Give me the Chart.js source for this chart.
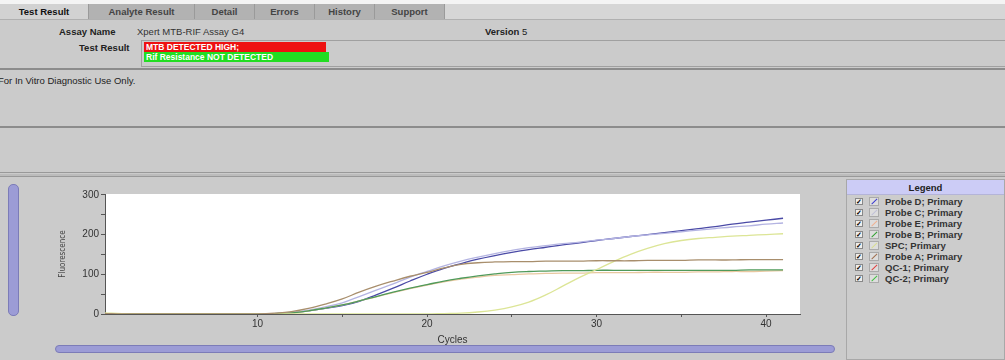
<!DOCTYPE html>
<html lang="en">
<head>
    <meta charset="UTF-8">
    <title>Test Result</title>
    <script src="https://cdn.jsdelivr.net/npm/chart.js"></script>
    <style>
        * { margin: 0; padding: 0; box-sizing: border-box; }
        body {
            width: 1005px; height: 360px; overflow: hidden;
            background: #cbcbcb;
            font-family: 'Liberation Sans', Arial, sans-serif;
            position: relative;
        }
        .abs { position: absolute; }
        .topstrip { left: 0; top: 0; width: 1005px; height: 4px; background: #f4f4f4; }
        .tabbar { left: 0; top: 4px; width: 1005px; height: 16px; background: #d6d6d6; border-bottom: 1px solid #b0b0b0; }
        .tab {
            position: absolute; top: 0; height: 15px; line-height: 15px;
            font-size: 9.5px; font-weight: bold; color: #444; text-align: center;
            background: #b2b2b2; border-right: 1px solid #9a9a9a;
        }
        .tab.active { background: #d2d2d2; color: #111; }
        .lbl { font-size: 9.5px; font-weight: bold; color: #222; }
        .txt { font-size: 9.5px; color: #333; }
        .hline { left: 0; width: 1005px; height: 2px; background: #8c8c8c; }
        .res { left: 141px; top: 40px; width: 864px; height: 27px; border: 1px solid #a0a0a0; border-right: none; }
        .red, .green { position: absolute; left: 2px; height: 10px; line-height: 10px; font-size: 8.5px; font-weight: bold; color: #fff; padding-left: 2px; }
        .red { top: 1px; width: 182px; background: #ee1111; }
        .green { top: 11px; width: 185px; background: #22dd22; }
        .slider { background: #9c9cd6; border: 1px solid #7c7cb8; }
        .legend { left: 846px; top: 179px; width: 159px; height: 181px; border: 1px solid #a8a8a8; background: #cccccc; }
        .legend-head { height: 15px; background: #ccccf6; border-bottom: 1px solid #b4b4d8; text-align: center; font-size: 9.5px; font-weight: bold; line-height: 15px; color: #222; }
        .item { position: absolute; left: 8px; height: 11px; font-size: 9.5px; font-weight: bold; color: #333; line-height: 11px; }
        .chk { position: absolute; left: 0; top: 2px; width: 8px; height: 7px; border: 1px solid #888; background: #eee; font-size: 7px; line-height: 6px; text-align: center; color: #000; }
        .sw { position: absolute; left: 14px; top: 1px; width: 10px; height: 9px; border: 1px solid #aaa; background: #ddd; }
        .item span.name { position: absolute; left: 30px; white-space: nowrap; }
        #chartBox { left: 50px; top: 186px; width: 760px; height: 160px; }
    </style>
</head>
<body>
    <div class="abs topstrip"></div>
    <div class="abs tabbar">
        <div class="tab active" style="left:0;width:89px;">Test Result</div>
        <div class="tab" style="left:89px;width:106px;">Analyte Result</div>
        <div class="tab" style="left:195px;width:60px;">Detail</div>
        <div class="tab" style="left:255px;width:60px;">Errors</div>
        <div class="tab" style="left:315px;width:60px;">History</div>
        <div class="tab" style="left:375px;width:70px;">Support</div>
    </div>

    <div class="abs lbl" style="left:59px;top:26px;">Assay Name</div>
    <div class="abs txt" style="left:137px;top:26px;">Xpert MTB-RIF Assay G4</div>
    <div class="abs lbl" style="left:485px;top:26px;">Version <span style="font-weight:normal">5</span></div>
    <div class="abs lbl" style="left:79px;top:42px;">Test Result</div>
    <div class="abs res">
        <div class="red">MTB DETECTED HIGH;</div>
        <div class="green">Rif Resistance NOT DETECTED</div>
    </div>

    <div class="abs hline" style="top:68px;"></div>
    <div class="abs txt" style="left:-2px;top:75px;color:#222;">For In Vitro Diagnostic Use Only.</div>
    <div class="abs hline" style="top:126px;"></div>
    <div class="abs hline" style="top:172px;height:1px;background:#999;"></div>
    <div class="abs" style="left:0;top:174px;width:1005px;height:3px;background:#bcbcbc;border-bottom:1px solid #999;"></div>

    <!-- sliders -->
    <div class="abs slider" style="left:8px;top:184px;width:11px;height:132px;border-radius:5px;"></div>
    <div class="abs slider" style="left:55px;top:345px;width:780px;height:8px;border-radius:4px;"></div>

    <div class="abs" id="chartBox"><canvas id="pcr"></canvas></div>

    <div class="abs legend">
        <div class="legend-head">Legend</div>
        <div id="legendItems"></div>
    </div>

    <script>
        // cycles 1..41
        const cycles = [1,2,3,4,5,6,7,8,9,10,11,12,13,14,15,16,17,18,19,20,21,22,23,24,25,26,27,28,29,30,31,32,33,34,35,36,37,38,39,40,41];

        const probeD = [0,0,0,0,0,0,0,0,0,0,1,3,8,14,21,32,48,65,83,100,115,127,138,147,155,162,168,174,179,185,190,195,200,205,210,215,220,226,231,236,241];
        const probeC = [0,0,0,0,0,0,0,0,0,0,1,4,10,18,28,44,60,76,93,107,121,133,143,152,160,167,172,177,181,186,190,195,199,203,207,211,215,219,222,226,229];
        const probeE = [1,0,0,0,0,0,0,0,0,0,1,3,8,15,23,33,43,54,64,73,81,88,93,97,99,101,102,103,103,104,104,104,105,105,105,106,106,107,107,108,109];
        const probeB = [1,0,0,0,0,0,0,0,0,0,1,3,8,15,23,33,44,55,65,74,83,90,96,101,105,107,108,109,109,110,110,110,110,110,110,110,110,110,111,111,111];
        const spc    = [3,1,0,0,0,0,0,0,0,0,0,0,0,0,0,0,0,0,0,0,1,2,5,10,18,30,48,70,92,112,132,150,165,177,185,190,193,196,198,200,202];
        const probeA = [1,0,0,0,0,0,0,0,0,0,2,6,14,25,38,55,70,83,95,105,116,125,129,131,132,132,133,133,133,134,134,134,135,135,135,136,136,136,137,137,137];
        const qc1 = [];
        const qc2 = [];

        const yTicks = [0, 50, 100, 150, 200, 250, 300];
        const xTicks = [10, 15, 20, 25, 30, 35, 40];

        const series = [
            { name: 'Probe D; Primary', data: probeD, color: '#4a4aa6', sw: '#3a3ad0' },
            { name: 'Probe C; Primary', data: probeC, color: '#b4b4e2', sw: '#c0c0d8' },
            { name: 'Probe E; Primary', data: probeE, color: '#e8c8a0', sw: '#f0b090' },
            { name: 'Probe B; Primary', data: probeB, color: '#4f9a5a', sw: '#30a030' },
            { name: 'SPC; Primary',     data: spc,    color: '#dce596', sw: '#d8dc90' },
            { name: 'Probe A; Primary', data: probeA, color: '#a88e6c', sw: '#a07050' },
            { name: 'QC-1; Primary',    data: qc1,    color: '#e05050', sw: '#e04040' },
            { name: 'QC-2; Primary',    data: qc2,    color: '#70d070', sw: '#40c040' }
        ];

        // legend panel
        const legendDiv = document.getElementById('legendItems');
        series.forEach((s, i) => {
            const it = document.createElement('div');
            it.className = 'item';
            it.style.top = (16 + i * 11) + 'px';
            it.innerHTML = '<div class="chk">&#10003;</div>' +
                '<svg class="sw" viewBox="0 0 10 9"><line x1="2" y1="8" x2="9" y2="1" stroke="' + s.sw + '" stroke-width="1.3"/></svg>' +
                '<span class="name">' + s.name + '</span>';
            legendDiv.appendChild(it);
        });

        // white plot background
        const plotBg = {
            id: 'plotBg',
            beforeDraw(chart) {
                const a = chart.chartArea;
                chart.ctx.save();
                chart.ctx.fillStyle = '#ffffff';
                chart.ctx.fillRect(a.left, a.top, a.right - a.left, a.bottom - a.top);
                chart.ctx.restore();
            }
        };

        new Chart(document.getElementById('pcr'), {
            type: 'line',
            data: {
                datasets: series.slice().reverse().map(s => ({
                    label: s.name,
                    data: s.data.map((v, i) => ({ x: cycles[i], y: v })),
                    borderColor: s.color,
                    borderWidth: 1.3,
                    pointRadius: 0,
                    tension: 0.4,
                    fill: false
                }))
            },
            options: {
                responsive: true,
                maintainAspectRatio: false,
                animation: false,
                layout: { padding: { top: 8, right: 10, bottom: 0, left: 0 } },
                plugins: { legend: { display: false }, tooltip: { enabled: false } },
                scales: {
                    x: {
                        type: 'linear', min: 1, max: 42,
                        afterBuildTicks: s => { s.ticks = xTicks.map(v => ({ value: v })); },
                        afterFit: s => { s.height = 32; },
                        ticks: {
                            autoSkip: false, maxRotation: 0, padding: 1,
                            color: '#333', font: { family: 'Liberation Sans', size: 10 },
                            callback: v => (v % 10 === 0 ? v : '')
                        },
                        grid: { drawOnChartArea: false, color: '#555', tickLength: 3 },
                        border: { color: '#555', width: 1 },
                        title: { display: true, text: 'Cycles', color: '#333', font: { family: 'Liberation Sans', size: 10 }, padding: { top: 0, bottom: 0 } }
                    },
                    y: {
                        min: 0, max: 302,
                        afterBuildTicks: s => { s.ticks = yTicks.map(v => ({ value: v })); },
                        afterFit: s => { s.width = 55; },
                        ticks: {
                            autoSkip: false, padding: 2,
                            color: '#333', font: { family: 'Liberation Sans', size: 10 },
                            callback: v => (v % 100 === 0 ? v : '')
                        },
                        grid: { drawOnChartArea: false, color: '#555', tickLength: 4 },
                        border: { color: '#555', width: 1 },
                        title: { display: true, text: 'Fluorescence', color: '#444', font: { family: 'DejaVu Sans Condensed', size: 8 }, padding: { top: 8, bottom: 0 } }
                    }
                }
            },
            plugins: [plotBg]
        });
    </script>
</body>
</html>
